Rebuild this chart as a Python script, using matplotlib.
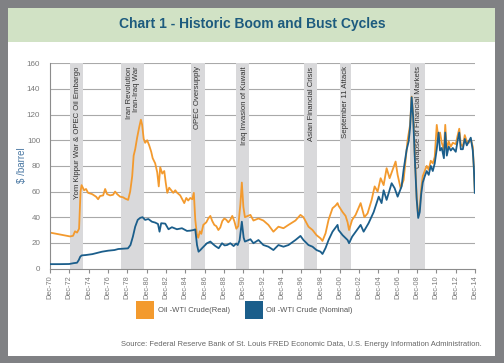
import matplotlib
matplotlib.use('Agg')
import matplotlib.pyplot as plt
from matplotlib.patches import Rectangle
import matplotlib.transforms as mtransforms

plt.rcParams['font.family'] = ['Liberation Sans Narrow', 'Liberation Sans', 'DejaVu Sans']

# WTI crude, real (2014 dollars) - decimal years / $ per barrel
real_years = [1970.92, 1971.96, 1973.0, 1973.31, 1973.51, 1973.72, 1973.93, 1974.08, 1974.19,
              1974.45, 1974.65, 1974.86, 1975.28, 1975.69, 1975.9, 1976.1, 1976.42, 1976.63,
              1976.83, 1977.14, 1977.45, 1977.66, 1977.87, 1978.18, 1978.49, 1978.7, 1979.01,
              1979.22, 1979.43, 1979.58, 1979.74, 1979.94, 1980.15, 1980.33, 1980.46, 1980.62,
              1980.77, 1980.98, 1981.19, 1981.4, 1981.55, 1981.81, 1982.02, 1982.18, 1982.33,
              1982.54, 1982.75, 1982.9, 1983.06, 1983.26, 1983.47, 1983.68, 1983.89, 1984.09,
              1984.4, 1984.61, 1984.82, 1985.03, 1985.23, 1985.44, 1985.65, 1985.81, 1985.96,
              1986.12, 1986.27, 1986.43, 1986.58, 1986.79, 1987.1, 1987.31, 1987.52, 1987.72,
              1987.93, 1988.14, 1988.35, 1988.55, 1988.76, 1988.97, 1989.17, 1989.38, 1989.59,
              1989.79, 1990.0, 1990.21, 1990.41, 1990.63, 1990.78, 1990.94, 1991.1, 1991.4,
              1991.67, 1991.98, 1992.5, 1993.01, 1993.53, 1994.05, 1994.57, 1995.09, 1995.61,
              1996.33, 1996.85, 1997.16, 1997.68, 1998.1, 1998.51, 1998.93, 1999.13, 1999.45,
              1999.76, 2000.17, 2000.48, 2000.69, 2000.79, 2001.21, 2001.52, 2001.73, 2001.88,
              2002.2, 2002.56, 2003.08, 2003.47, 2003.8, 2004.22, 2004.53, 2004.84, 2005.15,
              2005.46, 2005.77, 2006.08, 2006.39, 2006.7, 2006.91, 2007.22, 2007.53, 2007.74,
              2007.94, 2008.2, 2008.36, 2008.52, 2008.68, 2008.88, 2009.04, 2009.2, 2009.35,
              2009.51, 2009.72, 2009.92, 2010.13, 2010.34, 2010.55, 2010.75, 2010.96, 2011.15,
              2011.3, 2011.48, 2011.7, 2011.84, 2012.0, 2012.2, 2012.41, 2012.62, 2012.93,
              2013.13, 2013.29, 2013.45, 2013.66, 2013.86, 2014.07, 2014.28, 2014.48, 2014.69,
              2014.8, 2014.9]
real_vals = [28, 26.5, 25, 25.5, 29, 28, 31, 60, 65,
             61, 62, 59, 58, 56, 54, 56.5, 57, 62,
             58, 57, 57.5, 60, 58, 56, 55.5, 54.5, 53.5,
             60, 72, 88, 93, 102, 110, 116, 112, 101,
             98, 100, 96, 91, 86, 82, 75, 64, 79,
             74, 76, 67, 59, 63, 61, 59, 61, 59,
             57, 54, 51, 55, 53, 55, 54, 59, 38,
             27, 24, 29, 27, 34, 36, 39, 41, 37,
             34, 33, 30, 32, 37, 39, 38, 36, 38,
             41, 37, 31, 33, 50, 67, 48, 40, 41,
             41.8, 37.4, 39, 37.4, 34, 28.7, 32.6, 31.4, 34,
             37.4, 41.8, 40, 32.6, 30, 26, 23.5, 21.5, 27.5,
             38, 47, 49, 51, 49, 44, 41, 36, 30,
             37.9, 41.8, 51, 40, 43, 53.5, 64, 60, 70.4,
             65, 78.2, 70.4, 77, 83.4, 73, 62.6, 69, 84.7,
             100, 112, 134, 120, 90, 56, 41, 47, 62,
             72, 76, 80, 77, 84, 82, 87, 112, 100,
             106, 98, 92.5, 112, 92.5, 99, 95, 98, 97,
             104, 109, 97, 95, 104, 99, 98, 101, 95,
             78, 60]

# WTI crude, nominal
nom_years = [1970.92, 1971.9, 1972.9, 1973.4, 1973.72, 1973.9, 1974.05, 1974.2, 1974.62,
             1975.3, 1975.66, 1976.3, 1976.95, 1977.6, 1977.99, 1978.6, 1978.99, 1979.25,
             1979.5, 1979.74, 1980.0, 1980.26, 1980.5, 1980.77, 1981.1, 1981.47, 1981.81,
             1982.1, 1982.26, 1982.43, 1982.85, 1983.19, 1983.54, 1984.06, 1984.58, 1985.1,
             1985.44, 1985.78, 1985.96, 1986.14, 1986.3, 1986.5, 1986.66, 1987.17, 1987.52,
             1987.8, 1988.04, 1988.38, 1988.73, 1989.0, 1989.25, 1989.59, 1989.93, 1990.2,
             1990.35, 1990.55, 1990.78, 1990.97, 1991.1, 1991.67, 1991.98, 1992.5, 1993.01,
             1993.53, 1994.05, 1994.57, 1995.09, 1995.61, 1996.33, 1996.85, 1997.16, 1997.68,
             1998.1, 1998.51, 1998.93, 1999.13, 1999.45, 1999.76, 2000.17, 2000.69, 2000.79,
             2001.21, 2001.73, 2001.88, 2002.2, 2002.7, 2003.08, 2003.39, 2003.9, 2004.43,
             2004.95, 2005.25, 2005.46, 2005.77, 2006.29, 2006.6, 2006.91, 2007.32, 2007.53,
             2007.84, 2008.05, 2008.2, 2008.36, 2008.52, 2008.68, 2008.88, 2009.04, 2009.2,
             2009.35, 2009.51, 2009.72, 2009.92, 2010.13, 2010.34, 2010.55, 2010.75, 2010.96,
             2011.15, 2011.3, 2011.48, 2011.7, 2011.84, 2012.0, 2012.2, 2012.41, 2012.62,
             2012.93, 2013.13, 2013.29, 2013.45, 2013.66, 2013.86, 2014.07, 2014.28, 2014.48,
             2014.69, 2014.8, 2014.9]
nom_vals = [3.4, 3.4, 3.5, 4.2, 4.5, 6.6, 9.2, 10.2, 10.5,
            11.2, 11.9, 13.1, 13.9, 14.4, 15.2, 15.5, 15.7, 18.3,
            24.8, 32.6, 37.9, 39.5, 40, 37.9, 38.6, 36.5, 35.8,
            34.7, 28.7, 35.3, 35, 30.6, 32.2, 30.6, 31.4, 29.3,
            29.5, 30, 30.5, 18.3, 13.1, 14.5, 15.8, 19.7, 21,
            19, 17.5, 15.8, 19.7, 18, 18.3, 19.7, 17.5, 19.5,
            18.3, 22, 36.5, 24, 21, 22.8, 19.7, 22.2, 18.3,
            17, 14.4, 18.3, 17, 18.3, 22.2, 25.4, 22.2, 18.3,
            17, 14.4, 13.1, 11.3, 16, 22.2, 28.7, 34, 30,
            26, 22.2, 19.7, 24.8, 30, 34, 28.7, 35.3, 44,
            56, 51, 61, 53.5, 66.5, 62.6, 56, 64, 77,
            92.5, 99, 110, 133.5, 118, 88, 54, 39.4, 44,
            58, 67, 72, 76, 73, 80, 76, 82, 93,
            106, 92, 94, 86, 106, 88, 95, 92, 94,
            91, 100, 106, 93, 93, 101, 96, 99, 102,
            92, 79, 59]

band_start = [1973.0, 1978.25, 1985.55, 1990.2, 1997.2, 2000.9, 2008.2]
band_end = [1974.35, 1980.67, 1986.92, 1991.5, 1998.58, 2002.1, 2009.7]
band_text_x = [1973.72, 1979.55, 1986.22, 1991.04, 1997.99, 2001.52, 2009.09]
band_labels = ['Yom Kippur War & OPEC Oil Embargo', 'Iran Revolution\nIran-Iraq War',
               'OPEC Oversupply', 'Iraq Invasion of Kuwait', 'Asian Financial Crisis',
               'September 11 Attack', 'Collapse of Financial Markets']

tick_years = [1970.92 + 2 * k for k in range(23)]
tick_labels = ['Dec-%02d' % ((70 + 2 * k) % 100) for k in range(23)]

orange = '#f39a2e'
blue = '#1b5e8b'
W, H = 504, 363

fig = plt.figure(figsize=(W / 100, H / 100), dpi=100)
fig.patch.set_facecolor('#808184')
fig.patches.append(Rectangle((8 / W, 1 - 356 / H), 487 / W, 348 / H, transform=fig.transFigure,
                             facecolor='white', edgecolor='none', zorder=-2))
fig.patches.append(Rectangle((8 / W, 1 - 42 / H), 487 / W, 34 / H, transform=fig.transFigure,
                             facecolor='#d1e2c5', edgecolor='none', zorder=-1))
fig.text(0.5, 1 - 24 / H, 'Chart 1 - Historic Boom and Bust Cycles', ha='center', va='center',
         fontsize=10, fontweight='bold', color='#1d5b7e')

ax = fig.add_axes([50 / W, 1 - 268.5 / H, 425 / W, 205.2 / H])
ax.set_zorder(5)
ax.set_facecolor('white')
ax.set_xlim(1970.92, 2014.92)
ax.set_ylim(0, 160)
ax.set_yticks(range(0, 161, 20))
for v in range(20, 161, 20):
    ax.axhline(v, color='#a9a9a9', lw=0.8, zorder=0.5)

for s, e in zip(band_start, band_end):
    ax.axvspan(s, e, color='#d9d9db', lw=0, zorder=1)

trans = mtransforms.blended_transform_factory(ax.transData, ax.transAxes)
for x, lab in zip(band_text_x, band_labels):
    ax.text(x, 0.985, lab, transform=trans, rotation=90, ha='center', va='top',
            multialignment='right', fontsize=5.6, color='#333333', zorder=1.5, linespacing=1.0)

ax.plot(real_years, real_vals, color=orange, lw=1.3, zorder=2)
ax.plot(nom_years, nom_vals, color=blue, lw=1.3, zorder=3)

for sp in ['top', 'right']:
    ax.spines[sp].set_visible(False)
for sp in ['left', 'bottom']:
    ax.spines[sp].set_color('#8c8c8c')
    ax.spines[sp].set_linewidth(0.8)

ax.set_xticks(tick_years)
ax.set_xticklabels(tick_labels, rotation=90, fontsize=5.3, color='#7a7a7a')
ax.tick_params(axis='x', length=3, color='#8c8c8c', pad=2)
ax.tick_params(axis='y', length=0, labelsize=5.8, labelcolor='#7a7a7a', pad=7)

fig.text(22 / W, 1 - 165 / H, '$ /barrel', rotation=90, ha='center', va='center',
         fontsize=7, color='#4a78a3')

# legend
fig.patches.append(Rectangle((136 / W, 1 - 318.7 / H), 18 / W, 17.7 / H, transform=fig.transFigure,
                             facecolor=orange, edgecolor='none'))
fig.patches.append(Rectangle((245 / W, 1 - 318.7 / H), 18 / W, 17.7 / H, transform=fig.transFigure,
                             facecolor=blue, edgecolor='none'))
fig.text(158 / W, 1 - 310 / H, 'Oil -WTI Crude(Real)', ha='left', va='center', fontsize=5.5, color='#555555')
fig.text(266 / W, 1 - 310 / H, 'Oil -WTI Crude (Nominal)', ha='left', va='center', fontsize=5.5, color='#555555')

fig.text(482 / W, 1 - 345 / H,
         'Source: Federal Reserve Bank of St. Louis FRED Economic Data, U.S. Energy Information Administration.',
         ha='right', va='center', fontsize=5.5, color='#666666')

fig.savefig('out.png', dpi=100, facecolor=fig.get_facecolor())
